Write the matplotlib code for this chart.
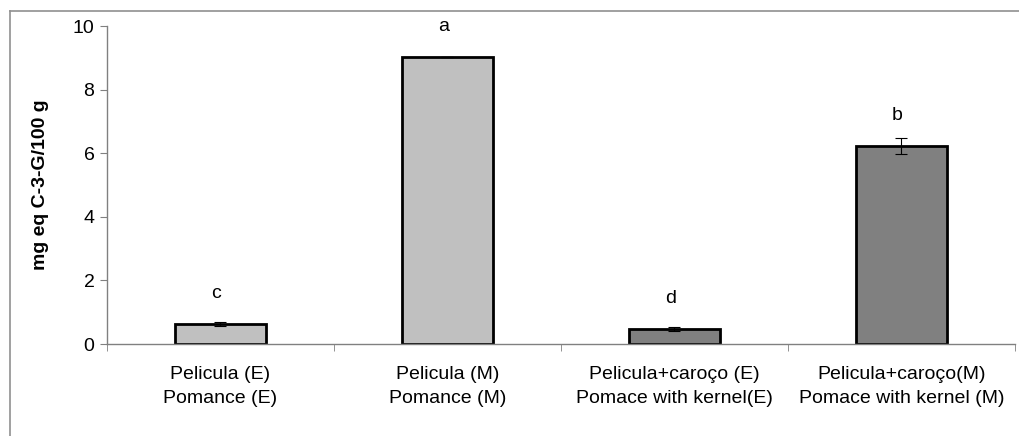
import numpy as np
import matplotlib.pyplot as plt
from matplotlib.lines import Line2D

# ---------- Data ----------
categories = ["Pelicula (E)\nPomance (E)",
              "Pelicula (M)\nPomance (M)",
              "Pelicula+caroço (E)\nPomace with kernel(E)",
              "Pelicula+caroço(M)\nPomace with kernel (M)"]
values = [0.63, 9.02, 0.47, 6.23]
errors = [0.05, 0.0, 0.05, 0.24]
letters = ["c", "a", "d", "b"]
colors = ["#C0C0C0", "#C0C0C0", "#808080", "#808080"]

plt.rcParams['font.family'] = ['Liberation Sans', 'DejaVu Sans']

fig = plt.figure(figsize=(10.19, 4.36), dpi=100)
ax = fig.add_axes([0.105, 0.211, 0.891, 0.729])

x = np.arange(len(categories))
ax.bar(x, values, width=0.4, color=colors, edgecolor="black", linewidth=2, zorder=2)
ax.errorbar(x, values, yerr=errors, fmt="none", ecolor="black",
            elinewidth=0.8, capsize=4.3, capthick=0.8, zorder=3)

# significance letters
for xi, v, lab in zip(x, values, letters):
    ax.annotate(lab, (xi, v), xytext=(-3, 22), textcoords="offset points",
                ha="center", va="center", fontsize=14)

ax.set_xlim(-0.5, len(categories) - 0.5)
ax.set_ylim(0, 10)
ax.set_yticks([0, 2, 4, 6, 8, 10])
ax.set_xticks(x)
ax.set_xticklabels(categories, fontsize=14, linespacing=1.5)
ax.set_xticks(np.arange(-0.5, len(categories)), minor=True)
ax.tick_params(axis="x", which="major", length=0, pad=16)
ax.tick_params(axis="x", which="minor", length=5, color="#808080", direction="out")
ax.tick_params(axis="y", length=5, color="#808080", labelsize=14, pad=4)

ax.set_ylabel("mg eq C-3-G/100 g", fontsize=14, fontweight="bold", labelpad=17)

for side in ["top", "right"]:
    ax.spines[side].set_visible(False)
for side in ["left", "bottom"]:
    ax.spines[side].set_color("#808080")
    ax.spines[side].set_linewidth(1)

# outer chart frame (left and top edges visible)
fig.add_artist(Line2D([10 / 1019, 10 / 1019], [0, 1 - 11 / 436],
                      transform=fig.transFigure, color="#909090", linewidth=1.2))
fig.add_artist(Line2D([10 / 1019, 1], [1 - 11 / 436, 1 - 11 / 436],
                      transform=fig.transFigure, color="#909090", linewidth=1.2))

fig.savefig("out.png", dpi=100)
